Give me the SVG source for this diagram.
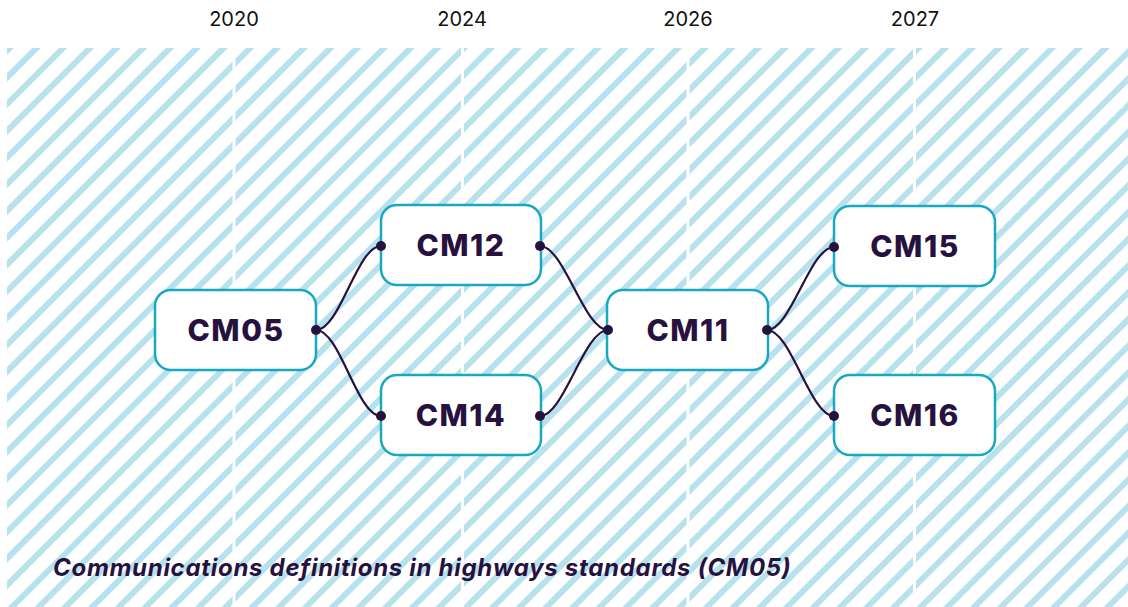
<svg xmlns="http://www.w3.org/2000/svg" width="1128" height="607" viewBox="0 0 1128 607">
<defs>
<pattern id="hatch" patternUnits="userSpaceOnUse" width="18.9" height="18.9" patternTransform="rotate(45)">
<rect x="0" y="0" width="6" height="18.9" fill="#b7e1ec"/>
</pattern>
<style>
.year{font-family:Inter,"Noto Sans",sans-serif;font-size:20px;fill:#111111;text-anchor:middle}
.box{fill:#ffffff;stroke:#17a8c2;stroke-width:2.5}
.lbl{font-family:Inter,"Noto Sans",sans-serif;font-weight:800;font-size:30px;fill:#27123f;text-anchor:middle;letter-spacing:1.5px}
.con{fill:none;stroke:#27123f;stroke-width:2.2}
.dot{fill:#27123f}
.cap{font-family:Inter,"Noto Sans",sans-serif;font-weight:700;font-style:italic;font-size:24px;fill:#27123f;letter-spacing:0.7px}
</style>
</defs>
<rect x="0" y="0" width="1128" height="607" fill="#ffffff"/>
<rect x="7" y="48" width="1121" height="559" fill="url(#hatch)"/>
<rect x="232.5" y="48" width="3" height="559" fill="#ffffff"/>
<rect x="461" y="48" width="3" height="559" fill="#ffffff"/>
<rect x="686.5" y="48" width="3" height="559" fill="#ffffff"/>
<rect x="913" y="48" width="3" height="559" fill="#ffffff"/>
<g id="years">
<text class="year" x="234" y="26">2020</text>
<text class="year" x="462" y="26">2024</text>
<text class="year" x="688" y="26">2026</text>
<text class="year" x="915" y="26">2027</text>
</g>
<g id="connectors">
<path class="con" d="M316,330 C340,330 357,246 381,246"/>
<path class="con" d="M316,330 C340,330 357,416 381,416"/>
<path class="con" d="M540,246 C564,246 584,330 608,330"/>
<path class="con" d="M540,416 C564,416 584,330 608,330"/>
<path class="con" d="M767,330 C791,330 810,247 834,247"/>
<path class="con" d="M767,330 C791,330 810,416 834,416"/>
</g>
<g id="CM05"><rect class="box" x="155" y="290" width="161" height="80" rx="16"/><text class="lbl" x="236" y="341">CM05</text></g>
<g id="CM12"><rect class="box" x="381" y="205" width="160" height="80" rx="16"/><text class="lbl" x="461" y="256">CM12</text></g>
<g id="CM14"><rect class="box" x="381" y="375" width="160" height="80" rx="16"/><text class="lbl" x="461" y="426">CM14</text></g>
<g id="CM11"><rect class="box" x="607" y="290" width="161" height="80" rx="16"/><text class="lbl" x="688" y="341">CM11</text></g>
<g id="CM15"><rect class="box" x="834" y="206" width="161" height="80" rx="16"/><text class="lbl" x="915" y="257">CM15</text></g>
<g id="CM16"><rect class="box" x="834" y="375" width="161" height="80" rx="16"/><text class="lbl" x="915" y="426">CM16</text></g>
<g id="dots">
<circle class="dot" cx="316" cy="330" r="5"/>
<circle class="dot" cx="381" cy="246" r="5"/>
<circle class="dot" cx="381" cy="416" r="5"/>
<circle class="dot" cx="540" cy="246" r="5"/>
<circle class="dot" cx="540" cy="416" r="5"/>
<circle class="dot" cx="608" cy="330" r="5"/>
<circle class="dot" cx="767" cy="330" r="5"/>
<circle class="dot" cx="834" cy="247" r="5"/>
<circle class="dot" cx="834" cy="416" r="5"/>
</g>
<text class="cap" x="53" y="576">Communications definitions in highways standards (CM05)</text>
</svg>
